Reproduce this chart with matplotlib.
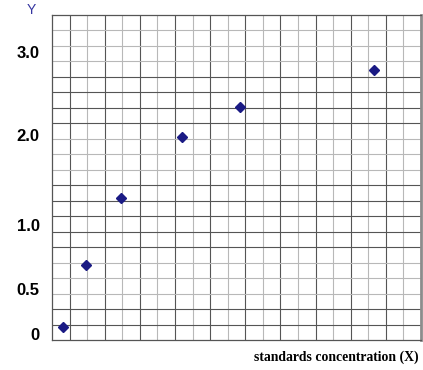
import matplotlib
matplotlib.use("Agg")
import matplotlib.pyplot as plt

# Data in grid units (cells of the graph paper)
x_vals = [0.61, 1.94, 3.93, 7.42, 10.7, 18.33]
y_vals = [0.86, 4.85, 9.16, 13.14, 15.04, 17.45]

# Y tick labels and their positions (grid units)
y_tick_pos = [0.39, 3.28, 7.43, 13.25, 18.63]
y_tick_labels = ["0", "0.5", "1.0", "2.0", "3.0"]

n_cols = 21
n_rows = 21
dark_rows = [0, 1, 2, 6, 7, 8, 9, 10, 14, 15, 16, 17]

W, H = 423, 370
fig = plt.figure(figsize=(W / 100, H / 100), dpi=100)
ax = fig.add_axes([52 / W, 1 - 340 / H, 369 / W, 325 / H])
ax.set_xlim(0, n_cols)
ax.set_ylim(0, n_rows)

dark = "#555555"
light = "#b8b8b8"
for i in range(1, n_cols):
    ax.axvline(i, color=dark if i % 2 == 1 else light, lw=0.8, zorder=1)
for j in range(1, n_rows):
    ax.axhline(j, color=dark if j in dark_rows else light, lw=0.8, zorder=1)

ax.plot(x_vals, y_vals, linestyle="none", marker="D", markersize=4.9,
        color="#1a1a84", zorder=3, clip_on=False)

ax.set_xticks([])
ax.set_yticks(y_tick_pos)
ax.set_yticklabels(y_tick_labels, fontfamily="Liberation Sans",
                   fontweight="bold", fontsize=12)
ax.tick_params(axis="y", length=0, pad=9)

for side in ["left", "bottom", "top"]:
    ax.spines[side].set_color("#555555")
    ax.spines[side].set_linewidth(0.9)
ax.spines["right"].set_color("#8c8c8c")
ax.spines["right"].set_linewidth(2.0)

fig.text(419 / W, 1 - 357 / H, "standards concentration (X)",
         ha="right", va="center", fontfamily="Liberation Serif",
         fontweight="bold", fontsize=9.9)
fig.text(31 / W, 1 - 9.5 / H, "Y", ha="center", va="center",
         fontfamily="Liberation Sans", fontsize=10, color="#3535a0")

fig.savefig("out.png", dpi=100)
